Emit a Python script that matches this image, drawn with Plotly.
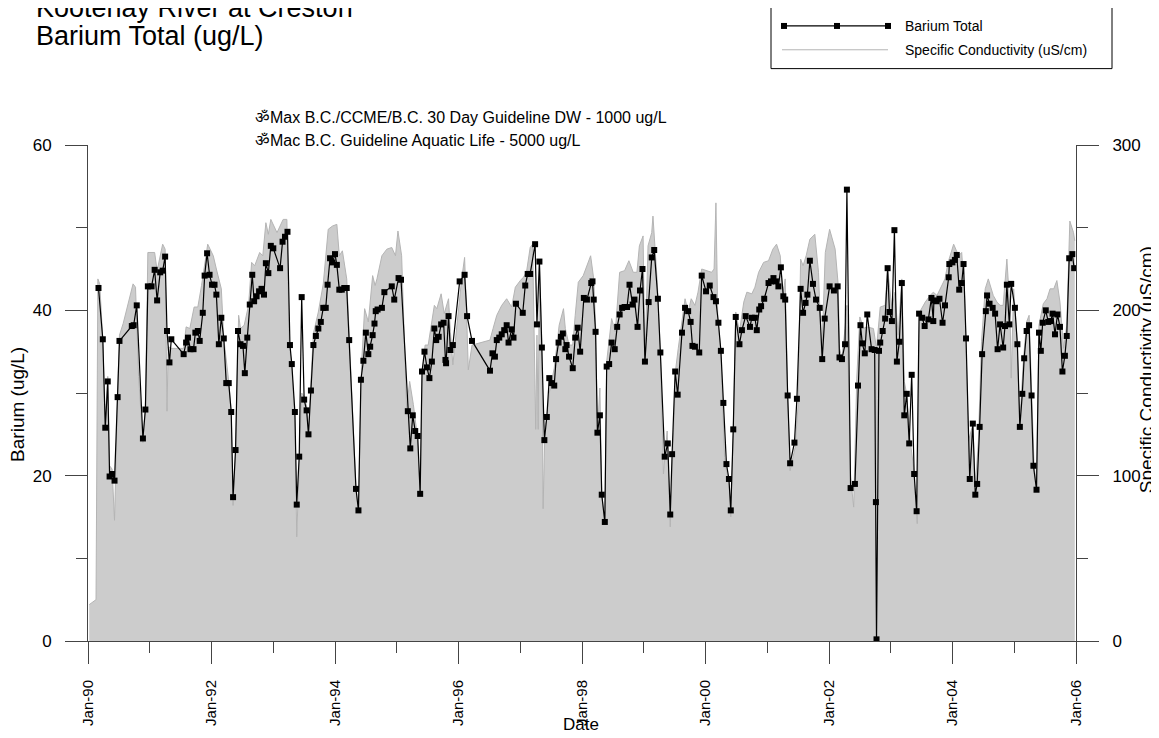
import datetime as dt
import plotly.graph_objects as go

# ---------------- data (decimal years) ----------------
ba_year = [
    1990.17, 1990.24, 1990.28, 1990.32, 1990.35, 1990.39, 1990.43, 1990.48, 1990.51, 1990.71,
    1990.74, 1990.79, 1990.89, 1990.93, 1990.97, 1991.03, 1991.08, 1991.12, 1991.17, 1991.21,
    1991.25, 1991.28, 1991.32, 1991.35, 1991.55, 1991.59, 1991.62, 1991.66, 1991.71, 1991.74,
    1991.78, 1991.81, 1991.86, 1991.89, 1991.93, 1991.97, 1992.01, 1992.05, 1992.08, 1992.12,
    1992.16, 1992.20, 1992.24, 1992.28, 1992.32, 1992.35, 1992.39, 1992.43, 1992.47, 1992.51,
    1992.54, 1992.58, 1992.62, 1992.66, 1992.69, 1992.73, 1992.77, 1992.81, 1992.85, 1992.88,
    1992.92, 1992.96, 1993.00, 1993.11, 1993.15, 1993.19, 1993.23, 1993.27, 1993.30, 1993.35,
    1993.38, 1993.42, 1993.46, 1993.50, 1993.54, 1993.57, 1993.61, 1993.65, 1993.69, 1993.73,
    1993.77, 1993.81, 1993.85, 1993.88, 1993.92, 1993.96, 1994.00, 1994.03, 1994.07, 1994.11,
    1994.15, 1994.19, 1994.23, 1994.34, 1994.38, 1994.42, 1994.46, 1994.50, 1994.54, 1994.57,
    1994.61, 1994.64, 1994.66, 1994.69, 1994.76, 1994.80, 1994.92, 1994.96, 1995.03, 1995.07,
    1995.18, 1995.22, 1995.26, 1995.30, 1995.34, 1995.38, 1995.41, 1995.45, 1995.49, 1995.53,
    1995.57, 1995.61, 1995.64, 1995.68, 1995.72, 1995.76, 1995.79, 1995.80, 1995.84, 1995.87,
    1995.91, 1996.02, 1996.10, 1996.14, 1996.22, 1996.51, 1996.55, 1996.59, 1996.62, 1996.66,
    1996.70, 1996.74, 1996.78, 1996.81, 1996.86, 1996.89, 1996.93, 1997.04, 1997.08, 1997.12,
    1997.16, 1997.24, 1997.27, 1997.31, 1997.35, 1997.39, 1997.43, 1997.47, 1997.51, 1997.55,
    1997.58, 1997.62, 1997.66, 1997.69, 1997.73, 1997.75, 1997.79, 1997.85, 1997.89, 1997.93,
    1997.97, 1998.03, 1998.08, 1998.15, 1998.17, 1998.19, 1998.22, 1998.25, 1998.29, 1998.32,
    1998.37, 1998.40, 1998.44, 1998.48, 1998.53, 1998.57, 1998.61, 1998.65, 1998.69, 1998.73,
    1998.77, 1998.82, 1998.85, 1998.90, 1998.94, 1998.98, 1999.02, 1999.08, 1999.13, 1999.17,
    1999.23, 1999.27, 1999.34, 1999.39, 1999.43, 1999.46, 1999.51, 1999.55, 1999.62, 1999.67,
    1999.72, 1999.76, 1999.79, 1999.83, 1999.90, 1999.94, 2000.01, 2000.07, 2000.13, 2000.17,
    2000.21, 2000.25, 2000.29, 2000.34, 2000.38, 2000.41, 2000.45, 2000.49, 2000.55, 2000.59,
    2000.65, 2000.72, 2000.75, 2000.80, 2000.83, 2000.87, 2000.90, 2000.95, 2001.02, 2001.06,
    2001.10, 2001.14, 2001.18, 2001.22, 2001.26, 2001.29, 2001.33, 2001.37, 2001.44, 2001.48,
    2001.54, 2001.58, 2001.62, 2001.65, 2001.69, 2001.74, 2001.79, 2001.85, 2001.89, 2001.93,
    2002.01, 2002.08, 2002.14, 2002.17, 2002.21, 2002.26, 2002.29, 2002.35, 2002.42, 2002.47,
    2002.51, 2002.54, 2002.58, 2002.62, 2002.69, 2002.74, 2002.76, 2002.77, 2002.81, 2002.83,
    2002.87, 2002.91, 2002.95, 2002.98, 2003.02, 2003.06, 2003.10, 2003.14, 2003.18, 2003.22,
    2003.26, 2003.30, 2003.34, 2003.38, 2003.42, 2003.46, 2003.51, 2003.55, 2003.61, 2003.66,
    2003.69, 2003.70, 2003.74, 2003.79, 2003.84, 2003.88, 2003.94, 2003.95, 2004.00, 2004.04,
    2004.07, 2004.11, 2004.15, 2004.18, 2004.22, 2004.28, 2004.33, 2004.37, 2004.40, 2004.44,
    2004.48, 2004.54, 2004.56, 2004.60, 2004.65, 2004.69, 2004.73, 2004.77, 2004.82, 2004.85,
    2004.88, 2004.92, 2004.95, 2005.01, 2005.05, 2005.09, 2005.13, 2005.16, 2005.20, 2005.24,
    2005.28, 2005.31, 2005.36, 2005.40, 2005.43, 2005.46, 2005.51, 2005.55, 2005.59, 2005.62,
    2005.66, 2005.70, 2005.74, 2005.78, 2005.82, 2005.85, 2005.89, 2005.94, 2005.97,
]
ba_val = [
    42.7, 36.5, 25.8, 31.4, 19.9, 20.2, 19.4, 29.5, 36.3, 38.1,
    38.2, 40.6, 24.5, 28.0, 42.9, 42.9, 44.9, 41.2, 44.6, 44.8,
    46.5, 37.5, 33.7, 36.5, 34.7, 36.1, 36.7, 35.3, 35.3, 37.3,
    37.5, 36.3, 39.7, 44.2, 46.9, 44.3, 43.1, 43.1, 41.9, 35.9,
    39.1, 36.6, 31.2, 31.2, 27.7, 17.4, 23.1, 37.5, 35.9, 35.7,
    32.4, 36.7, 40.7, 44.3, 41.1, 41.7, 42.3, 42.6, 41.9, 45.7,
    44.5, 47.8, 47.5, 45.1, 48.3, 48.9, 49.5, 35.8, 33.5, 27.7,
    16.5, 22.3, 41.6, 29.2, 27.9, 25.0, 30.3, 35.8, 36.9, 37.8,
    38.6, 40.3, 40.3, 43.1, 46.3, 45.8, 46.8, 45.5, 42.5, 42.5,
    42.7, 42.7, 36.4, 18.4, 15.8, 31.6, 33.9, 37.3, 34.7, 35.6,
    37.0, 38.4, 39.9, 40.1, 40.3, 42.2, 42.9, 41.3, 43.9, 43.7,
    27.8, 23.3, 27.3, 25.4, 24.8, 17.8, 32.6, 35.0, 33.1, 31.8,
    33.8, 37.8, 36.4, 36.8, 38.3, 38.5, 34.0, 33.6, 39.3, 35.2,
    35.8, 43.5, 44.3, 39.3, 36.3, 32.7, 34.8, 34.4, 36.4, 36.7,
    37.1, 37.6, 38.2, 36.1, 37.7, 36.7, 40.8, 39.7, 43.0, 44.4,
    44.4, 48.0, 38.3, 45.9, 35.5, 24.3, 27.1, 31.8, 31.2, 30.9,
    34.1, 36.1, 36.8, 37.2, 35.3, 35.8, 34.4, 33.0, 36.7, 37.9,
    35.0, 41.5, 41.3, 43.3, 43.5, 41.3, 37.4, 25.2, 27.3, 17.7,
    14.4, 33.2, 33.5, 36.1, 35.3, 38.0, 39.5, 40.3, 40.4, 40.4,
    43.1, 40.7, 41.3, 38.0, 42.4, 45.0, 33.8, 41.0, 46.4, 47.3,
    41.4, 34.9, 22.3, 23.9, 15.3, 22.6, 32.6, 29.8, 37.3, 40.3,
    39.9, 38.6, 35.7, 35.6, 34.9, 44.2, 42.3, 43.0, 41.6, 41.1,
    38.5, 35.1, 28.8, 21.4, 19.6, 15.8, 25.6, 39.2, 35.9, 37.6,
    39.3, 38.0, 39.1, 39.1, 37.6, 40.1, 40.5, 41.4, 43.3, 43.5,
    43.9, 43.5, 42.9, 45.2, 41.7, 41.3, 29.7, 21.5, 24.0, 29.3,
    42.6, 39.7, 40.9, 41.9, 46.0, 43.2, 41.3, 40.3, 34.1, 39.0,
    42.9, 42.4, 42.9, 34.3, 34.1, 35.9, 54.6, 18.5, 19.0, 30.9,
    38.2, 36.0, 34.8, 39.5, 35.3, 35.2, 16.8, 0.2, 35.1, 36.1,
    37.5, 39.0, 45.1, 39.8, 38.7, 49.7, 33.8, 36.2, 43.3, 27.3,
    29.9, 23.9, 32.2, 20.2, 15.7, 39.6, 39.1, 38.1, 38.9, 41.5,
    38.7, 41.2, 41.1, 41.4, 38.5, 40.6, 44.0, 45.6, 45.8, 46.1,
    46.7, 42.5, 43.3, 45.6, 36.6, 19.6, 26.3, 17.7, 19.0, 25.9,
    34.7, 39.9, 41.8, 40.8, 40.3, 39.6, 35.3, 38.3, 35.5, 38.1,
    43.1, 38.3, 43.2, 40.3, 35.9, 25.9, 29.9, 34.2, 37.5, 38.2,
    29.7, 21.2, 18.3, 37.3, 35.1, 38.5, 40.0, 38.6, 38.7, 39.6,
    37.1, 39.5, 38.0, 32.6, 34.5, 36.9, 46.3, 46.8, 45.1,
]

cond_year = [
    1990.02, 1990.13, 1990.16, 1990.19, 1990.24, 1990.28, 1990.32, 1990.35, 1990.39, 1990.43,
    1990.48, 1990.51, 1990.57, 1990.73, 1990.77, 1990.82, 1990.89, 1990.93, 1990.97, 1991.03,
    1991.08, 1991.12, 1991.17, 1991.21, 1991.25, 1991.28, 1991.30, 1991.35, 1991.55, 1991.59,
    1991.65, 1991.72, 1991.78, 1991.84, 1991.94, 1992.03, 1992.08, 1992.16, 1992.20, 1992.28,
    1992.32, 1992.35, 1992.39, 1992.44, 1992.47, 1992.53, 1992.60, 1992.65, 1992.70, 1992.78,
    1992.83, 1992.88, 1992.92, 1992.96, 1993.06, 1993.11, 1993.16, 1993.22, 1993.26, 1993.30,
    1993.35, 1993.38, 1993.42, 1993.46, 1993.50, 1993.54, 1993.57, 1993.61, 1993.65, 1993.73,
    1993.81, 1993.89, 1993.96, 1994.03, 1994.07, 1994.12, 1994.19, 1994.23, 1994.30, 1994.34,
    1994.38, 1994.43, 1994.48, 1994.54, 1994.61, 1994.65, 1994.68, 1994.76, 1994.84, 1994.92,
    1994.98, 1995.02, 1995.08, 1995.16, 1995.21, 1995.27, 1995.33, 1995.38, 1995.42, 1995.46,
    1995.51, 1995.61, 1995.65, 1995.72, 1995.77, 1995.84, 1995.87, 1995.91, 1996.05, 1996.10,
    1996.13, 1996.16, 1996.22, 1996.51, 1996.56, 1996.62, 1996.70, 1996.78, 1996.86, 1996.92,
    1997.00, 1997.05, 1997.10, 1997.16, 1997.20, 1997.25, 1997.27, 1997.29, 1997.31, 1997.35,
    1997.37, 1997.40, 1997.43, 1997.47, 1997.55, 1997.63, 1997.70, 1997.73, 1997.79, 1997.85,
    1997.89, 1997.94, 1998.02, 1998.10, 1998.14, 1998.19, 1998.22, 1998.25, 1998.29, 1998.32,
    1998.37, 1998.40, 1998.48, 1998.54, 1998.61, 1998.69, 1998.76, 1998.83, 1998.89, 1998.93,
    1998.99, 1999.02, 1999.07, 1999.13, 1999.15, 1999.22, 1999.27, 1999.32, 1999.38, 1999.43,
    1999.47, 1999.52, 1999.56, 1999.61, 1999.67, 1999.72, 1999.77, 1999.83, 1999.88, 1999.94,
    2000.02, 2000.10, 2000.14, 2000.17, 2000.20, 2000.25, 2000.31, 2000.34, 2000.38, 2000.41,
    2000.45, 2000.49, 2000.55, 2000.62, 2000.67, 2000.75, 2000.80, 2000.86, 2000.94, 2001.02,
    2001.09, 2001.15, 2001.21, 2001.25, 2001.29, 2001.33, 2001.37, 2001.45, 2001.50, 2001.54,
    2001.58, 2001.63, 2001.69, 2001.77, 2001.83, 2001.88, 2001.94, 2002.01, 2002.10, 2002.15,
    2002.17, 2002.21, 2002.26, 2002.29, 2002.35, 2002.40, 2002.45, 2002.50, 2002.56, 2002.61,
    2002.72, 2002.77, 2002.83, 2002.91, 2002.95, 2003.02, 2003.07, 2003.12, 2003.18, 2003.22,
    2003.26, 2003.31, 2003.37, 2003.43, 2003.47, 2003.56, 2003.64, 2003.69, 2003.75, 2003.80,
    2003.88, 2003.93, 2004.02, 2004.10, 2004.15, 2004.20, 2004.26, 2004.33, 2004.37, 2004.42,
    2004.47, 2004.53, 2004.58, 2004.66, 2004.72, 2004.77, 2004.82, 2004.88, 2004.93, 2004.95,
    2004.99, 2005.04, 2005.09, 2005.15, 2005.20, 2005.24, 2005.28, 2005.32, 2005.36, 2005.40,
    2005.47, 2005.53, 2005.58, 2005.64, 2005.69, 2005.74, 2005.80, 2005.85, 2005.90, 2005.96,
    2005.98,
]
cond_val = [
    22, 25, 219, 216, 182, 131, 160, 106, 104, 73,
    150, 185, 192, 216, 214, 160, 120, 142, 235, 235,
    235, 224, 232, 240, 237, 139, 178, 177, 177, 190,
    189, 202, 202, 215, 240, 233, 225, 213, 183, 157,
    139, 82, 115, 197, 189, 191, 203, 229, 227, 235,
    233, 253, 246, 255, 247, 251, 255, 255, 180, 165,
    135, 63, 112, 150, 148, 142, 128, 155, 186, 199,
    216, 249, 251, 252, 233, 236, 219, 185, 120, 92,
    79, 167, 201, 193, 221, 215, 219, 233, 237, 238,
    233, 248, 233, 141, 157, 143, 125, 89, 163, 179,
    179, 203, 201, 210, 198, 207, 187, 167, 218, 232,
    200, 164, 179, 182, 189, 197, 203, 207, 202, 214,
    218, 220, 223, 238, 240, 128, 185, 128, 230, 180,
    80, 130, 135, 150, 165, 191, 201, 189, 179, 179,
    197, 217, 221, 229, 233, 219, 191, 127, 153, 89,
    71, 169, 195, 187, 223, 224, 230, 223, 223, 239,
    245, 169, 239, 247, 257, 217, 175, 101, 127, 69,
    111, 165, 177, 191, 207, 199, 207, 203, 211, 225,
    224, 223, 225, 265, 195, 175, 111, 103, 97, 75,
    127, 199, 187, 205, 211, 210, 214, 223, 229, 230,
    237, 240, 233, 209, 219, 149, 103, 117, 143, 231,
    227, 233, 243, 246, 223, 171, 235, 249, 237, 215,
    177, 171, 189, 203, 99, 81, 159, 196, 189, 190,
    189, 177, 202, 203, 225, 201, 211, 185, 219, 157,
    149, 123, 105, 71, 199, 205, 209, 211, 209, 213,
    219, 229, 240, 233, 235, 207, 121, 131, 93, 121,
    181, 213, 219, 209, 205, 203, 203, 231, 201, 159,
    213, 185, 133, 171, 193, 197, 149, 107, 93, 191,
    204, 207, 213, 213, 218, 205, 177, 191, 254, 247,
    242,
]

x_range_years = [1990, 2006]

title_lines = ["Kootenay River at Creston", "Barium Total (ug/L)"]
guideline_lines = [
    "\u0950Max B.C./CCME/B.C. 30 Day Guideline DW - 1000 ug/L",
    "\u0950Mac B.C. Guideline Aquatic Life - 5000 ug/L",
]
series_names = ["Barium Total", "Specific Conductivity (uS/cm)"]


def to_date(y):
    yr = int(y)
    start = dt.datetime(yr, 1, 1)
    days = (dt.datetime(yr + 1, 1, 1) - start).days
    return start + dt.timedelta(days=(y - yr) * days)


ba_dates = [to_date(v) for v in ba_year]
cond_dates = [to_date(v) for v in cond_year]

# ---------------- layout geometry ----------------
# page body has an 8px margin, so the figure is drawn 8px in from the window corner
OFF = 8
W, H = 1159 - OFF, 738 - OFF
PLOT_X0, PLOT_X1, PLOT_Y0, PLOT_Y1 = 88, 1076, 145, 645   # window pixels
L, T = PLOT_X0 - OFF, PLOT_Y0 - OFF
R, B = W - (PLOT_X1 - OFF), H - (PLOT_Y1 - OFF)
PW, PH = PLOT_X1 - PLOT_X0, PLOT_Y1 - PLOT_Y0


def px(xp):
    return (xp - PLOT_X0) / PW


def py(yp):
    return (PLOT_Y1 - yp) / PH


FONT = "Liberation Sans, Arial, sans-serif"
AX = "#444444"

fig = go.Figure()

fig.add_trace(go.Scatter(
    x=cond_dates, y=cond_val, name=series_names[1], mode="lines",
    line=dict(color="#b4b4b4", width=1), fill="tozeroy", fillcolor="#cccccc",
    yaxis="y", showlegend=False,
))
fig.add_trace(go.Scatter(
    x=ba_dates, y=ba_val, name=series_names[0], mode="lines+markers",
    line=dict(color="black", width=1.2),
    marker=dict(symbol="square", size=6, color="black"),
    yaxis="y2", showlegend=False,
))

fig.update_layout(
    width=W, height=H,
    margin=dict(l=L, r=R, t=T, b=B),
    paper_bgcolor="white", plot_bgcolor="white",
    font=dict(family=FONT, color="black"),
    showlegend=False,
    xaxis=dict(
        type="date",
        range=[to_date(x_range_years[0]), to_date(x_range_years[1])],
        tickformat="%b-%y", dtick="M24", tick0="1990-01-01",
        tickangle=-90, ticks="outside", ticklen=22, tickcolor=AX, tickwidth=1,
        ticklabelstandoff=10,
        minor=dict(dtick="M12", tick0="1990-01-01", ticks="outside", ticklen=11,
                   tickcolor=AX, showgrid=False),
        showline=True, linecolor=AX, linewidth=1,
        showgrid=False, zeroline=False,
        tickfont=dict(size=15, family=FONT),
    ),
    yaxis=dict(  # right axis: conductivity
        side="right", range=[0, 300], dtick=100,
        ticks="outside", ticklen=22, tickcolor=AX,
        minor=dict(dtick=50, ticks="outside", ticklen=11, tickcolor=AX, showgrid=False),
        showline=True, linecolor=AX, linewidth=1,
        showgrid=False, zeroline=False,
        ticklabelstandoff=10,
        tickfont=dict(size=17, family=FONT),
    ),
    yaxis2=dict(  # left axis: barium
        overlaying="y", side="left", range=[0, 60], dtick=20,
        ticks="outside", ticklen=22, tickcolor=AX,
        minor=dict(dtick=10, ticks="outside", ticklen=11, tickcolor=AX, showgrid=False),
        showline=True, linecolor=AX, linewidth=1,
        showgrid=False, zeroline=False,
        ticklabelstandoff=10,
        tickfont=dict(size=17, family=FONT),
    ),
)

ann = []
ann.append(dict(text=title_lines[0], x=px(34), y=py(7), xref="paper", yref="paper",
                xanchor="left", yanchor="middle", showarrow=False,
                font=dict(size=27, family=FONT)))
ann.append(dict(text=title_lines[1], x=px(34), y=py(35), xref="paper", yref="paper",
                xanchor="left", yanchor="middle", showarrow=False,
                font=dict(size=27, family=FONT)))
ann.append(dict(text=guideline_lines[0], x=px(253), y=py(117), xref="paper", yref="paper",
                xanchor="left", yanchor="middle", showarrow=False,
                font=dict(size=16, family=FONT)))
ann.append(dict(text=guideline_lines[1], x=px(253), y=py(140), xref="paper", yref="paper",
                xanchor="left", yanchor="middle", showarrow=False,
                font=dict(size=16, family=FONT)))
# axis titles
ann.append(dict(text="Barium (ug/L)", x=px(18), y=py(407), xref="paper", yref="paper",
                textangle=-90, xanchor="center", yanchor="middle", showarrow=False,
                font=dict(size=19, family=FONT)))
ann.append(dict(text="Specific Conductivity (uS/cm)", x=px(1146), y=py(372),
                xref="paper", yref="paper", textangle=-90, xanchor="center",
                yanchor="middle", showarrow=False, font=dict(size=19, family=FONT)))
ann.append(dict(text="Date", x=px(581), y=py(729), xref="paper", yref="paper",
                xanchor="center", yanchor="middle", showarrow=False,
                font=dict(size=17, family=FONT)))
# legend text
ann.append(dict(text=series_names[0], x=px(903), y=py(25), xref="paper", yref="paper",
                xanchor="left", yanchor="middle", showarrow=False,
                font=dict(size=14, family=FONT)))
ann.append(dict(text=series_names[1], x=px(903), y=py(49), xref="paper", yref="paper",
                xanchor="left", yanchor="middle", showarrow=False,
                font=dict(size=14, family=FONT)))

shapes = []
# legend box
shapes.append(dict(type="rect", xref="paper", yref="paper",
                   x0=px(771), x1=px(1112), y0=py(68), y1=py(5),
                   line=dict(color="black", width=1), fillcolor="white", layer="above"))
# legend symbol: barium line with markers
shapes.append(dict(type="line", xref="paper", yref="paper",
                   x0=px(784), x1=px(888), y0=py(25), y1=py(25),
                   line=dict(color="black", width=1.2)))
for mx in (784, 837, 888):
    shapes.append(dict(type="rect", xref="paper", yref="paper",
                       xsizemode="pixel", ysizemode="pixel",
                       xanchor=px(mx), yanchor=py(25),
                       x0=-3, x1=3, y0=-3, y1=3,
                       line=dict(color="black", width=0), fillcolor="black"))
# legend symbol: conductivity line
shapes.append(dict(type="line", xref="paper", yref="paper",
                   x0=px(782), x1=px(888), y0=py(49), y1=py(49),
                   line=dict(color="#b4b4b4", width=1)))

fig.update_layout(annotations=ann, shapes=shapes)

fig.write_html("out.html")
